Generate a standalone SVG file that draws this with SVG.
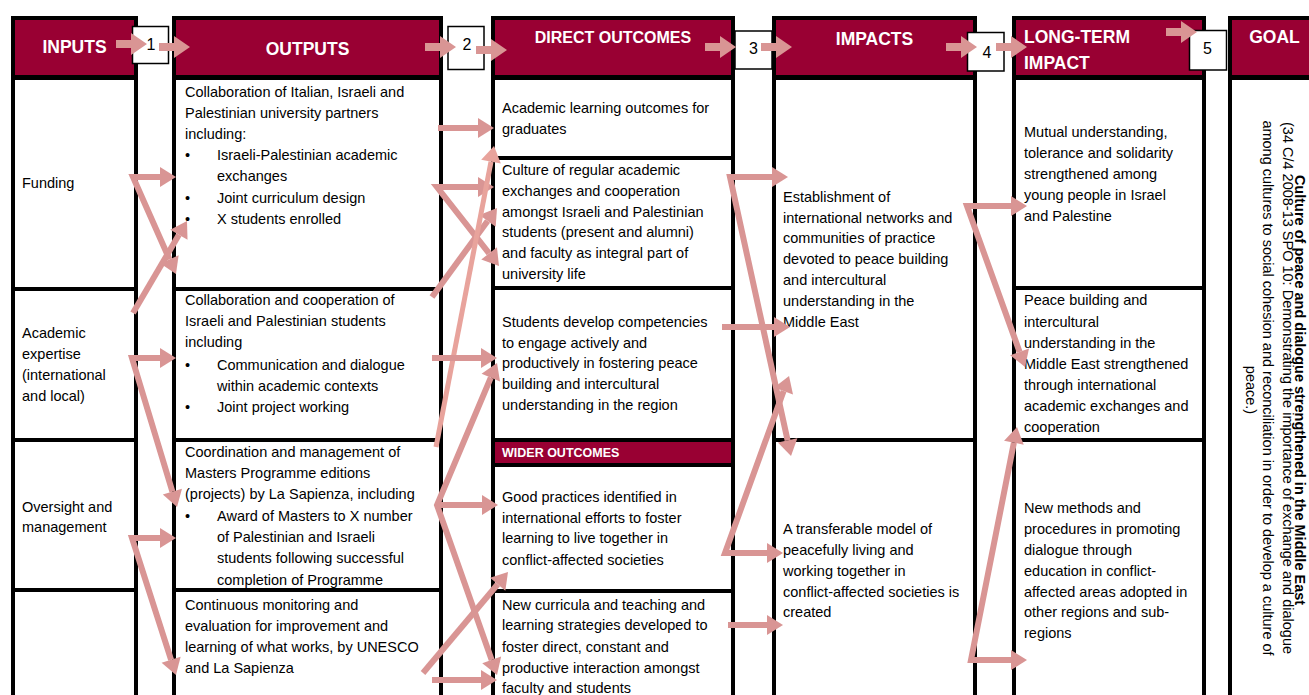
<svg xmlns="http://www.w3.org/2000/svg" width="1309" height="695" viewBox="0 0 1309 695">
<defs>
<style>
  .frame{fill:#000}
  .hdr{fill:#990033}
  .cell{fill:#fff}
  .ht{font-family:"Liberation Sans",Arial,sans-serif;font-weight:bold;font-size:17.5px;fill:#fff}
  .hc{text-anchor:middle}
  .t{font-family:"Liberation Sans",Arial,sans-serif;font-size:14.5px;fill:#000}
  .gb{font-family:"Liberation Sans",Arial,sans-serif;font-size:14.5px;font-weight:bold;fill:#000;text-anchor:middle}
  .gt{font-family:"Liberation Sans",Arial,sans-serif;font-size:14.5px;fill:#000;text-anchor:middle}
  .num rect{fill:#fff;stroke:#000;stroke-width:1.5}
  .num text{font-family:"Liberation Sans",Arial,sans-serif;font-size:16px;fill:#000;text-anchor:middle}
  .blk{fill:#D99594}
  .c{fill:none;stroke:#D99594;stroke-width:6;stroke-linejoin:miter;marker-end:url(#head)}
  .v{marker-start:url(#head)}
  .lt{stroke:#E8A39C;stroke-width:5;marker-end:url(#headLt)}
</style>
<marker id="head" markerUnits="userSpaceOnUse" markerWidth="16" markerHeight="20" refX="0" refY="10" orient="auto-start-reverse" overflow="visible">
  <path d="M0,0 L16,10 L0,20 z" fill="#D99594"/>
</marker>
<marker id="headLt" markerUnits="userSpaceOnUse" markerWidth="16" markerHeight="20" refX="0" refY="10" orient="auto" overflow="visible">
  <path d="M0,0 L16,10 L0,20 z" fill="#E8A39C"/>
</marker>
<!-- block arrow used between the column headers -->
<path id="hdrArrow" d="M0,-4 H15 V-11 L31,0 L15,11 V4 H0 z"/>
</defs>

<rect width="1309" height="695" fill="#fff"/>

<!-- INPUTS column -->
<g id="col-inputs">
  <rect class="frame" x="11" y="16" width="127" height="690"/>
  <rect class="hdr" x="15" y="20" width="119" height="55"/>
  <text class="ht hc" x="74.5" y="53">INPUTS</text>
</g>
<g id="in-funding">
  <rect class="cell" x="15" y="80" width="119" height="207"/>
  <text class="t" x="22" y="188">Funding</text>
</g>
<g id="in-expertise">
  <rect class="cell" x="15" y="291" width="119" height="147"/>
  <text class="t"><tspan x="22" y="338">Academic</tspan><tspan x="22" y="359">expertise</tspan><tspan x="22" y="380">(international</tspan><tspan x="22" y="401">and local)</tspan></text>
</g>
<g id="in-oversight">
  <rect class="cell" x="15" y="442" width="119" height="146"/>
  <text class="t"><tspan x="22" y="512">Oversight and</tspan><tspan x="22" y="532">management</tspan></text>
</g>
<g id="in-empty">
  <rect class="cell" x="15" y="592" width="119" height="110"/>
</g>

<!-- OUTPUTS column -->
<g id="col-outputs">
  <rect class="frame" x="172" y="16" width="271" height="690"/>
  <rect class="hdr" x="176" y="20" width="263" height="55"/>
  <text class="ht hc" x="307.5" y="55">OUTPUTS</text>
</g>
<g id="out-partners">
  <rect class="cell" x="176" y="80" width="263" height="207"/>
  <text class="t"><tspan x="185" y="97">Collaboration of Italian, Israeli and</tspan><tspan x="185" y="118">Palestinian university partners</tspan><tspan x="185" y="139">including:</tspan></text>
  <text class="t"><tspan x="185" y="160">•</tspan><tspan x="217" y="160">Israeli-Palestinian academic</tspan><tspan x="217" y="181">exchanges</tspan><tspan x="185" y="203">•</tspan><tspan x="217" y="203">Joint curriculum design</tspan><tspan x="185" y="224">•</tspan><tspan x="217" y="224">X students enrolled</tspan></text>
</g>
<g id="out-students">
  <rect class="cell" x="176" y="291" width="263" height="147"/>
  <text class="t"><tspan x="185" y="305">Collaboration and cooperation of</tspan><tspan x="185" y="326">Israeli and Palestinian students</tspan><tspan x="185" y="347">including</tspan></text>
  <text class="t"><tspan x="185" y="370">•</tspan><tspan x="217" y="370">Communication and dialogue</tspan><tspan x="217" y="391">within academic contexts</tspan><tspan x="185" y="412">•</tspan><tspan x="217" y="412">Joint project working</tspan></text>
</g>
<g id="out-coordination">
  <rect class="cell" x="176" y="442" width="263" height="146"/>
  <text class="t"><tspan x="185" y="457">Coordination and management of</tspan><tspan x="185" y="478">Masters Programme editions</tspan><tspan x="185" y="499">(projects) by La Sapienza, including</tspan></text>
  <text class="t"><tspan x="185" y="521">•</tspan><tspan x="217" y="521">Award of Masters to X number</tspan><tspan x="217" y="542">of Palestinian and Israeli</tspan><tspan x="217" y="563">students following successful</tspan><tspan x="217" y="585">completion of Programme</tspan></text>
</g>
<g id="out-monitoring">
  <rect class="cell" x="176" y="592" width="263" height="110"/>
  <text class="t"><tspan x="185" y="610">Continuous monitoring and</tspan><tspan x="185" y="631">evaluation for improvement and</tspan><tspan x="185" y="652">learning of what works, by UNESCO</tspan><tspan x="185" y="673">and La Sapienza</tspan></text>
</g>

<!-- DIRECT OUTCOMES column -->
<g id="col-direct">
  <rect class="frame" x="491" y="16" width="244" height="690"/>
  <rect class="hdr" x="495" y="20" width="236" height="55"/>
  <text class="ht hc" x="613" y="43" style="font-size:16px">DIRECT OUTCOMES</text>
</g>
<g id="do-learning">
  <rect class="cell" x="495" y="80" width="236" height="76"/>
  <text class="t"><tspan x="502" y="113">Academic learning outcomes for</tspan><tspan x="502" y="134">graduates</tspan></text>
</g>
<g id="do-culture">
  <rect class="cell" x="495" y="160" width="236" height="126"/>
  <text class="t"><tspan x="502" y="175">Culture of regular academic</tspan><tspan x="502" y="196">exchanges and cooperation</tspan><tspan x="502" y="217">amongst Israeli and Palestinian</tspan><tspan x="502" y="237">students (present and alumni)</tspan><tspan x="502" y="258">and faculty as integral part of</tspan><tspan x="502" y="279">university life</tspan></text>
</g>
<g id="do-competencies">
  <rect class="cell" x="495" y="290" width="236" height="148"/>
  <text class="t"><tspan x="502" y="327">Students develop competencies</tspan><tspan x="502" y="348">to engage actively and</tspan><tspan x="502" y="368">productively in fostering peace</tspan><tspan x="502" y="389">building and intercultural</tspan><tspan x="502" y="410">understanding in the region</tspan></text>
</g>
<g id="wider-header">
  <rect class="hdr" x="495" y="442" width="236" height="21"/>
  <text class="ht" x="502" y="457" style="font-size:12.5px">WIDER OUTCOMES</text>
</g>
<g id="wo-practices">
  <rect class="cell" x="495" y="467" width="236" height="122"/>
  <text class="t"><tspan x="502" y="502">Good practices identified in</tspan><tspan x="502" y="523">international efforts to foster</tspan><tspan x="502" y="543">learning to live together in</tspan><tspan x="502" y="565">conflict-affected societies</tspan></text>
</g>
<g id="wo-curricula">
  <rect class="cell" x="495" y="593" width="236" height="110"/>
  <text class="t"><tspan x="502" y="610">New curricula and teaching and</tspan><tspan x="502" y="630">learning strategies developed to</tspan><tspan x="502" y="652">foster direct, constant and</tspan><tspan x="502" y="673">productive interaction amongst</tspan><tspan x="502" y="693">faculty and students</tspan></text>
</g>

<!-- IMPACTS column -->
<g id="col-impacts">
  <rect class="frame" x="772" y="16" width="205" height="690"/>
  <rect class="hdr" x="776" y="20" width="197" height="55"/>
  <text class="ht hc" x="874.5" y="45">IMPACTS</text>
</g>
<g id="im-networks">
  <rect class="cell" x="776" y="80" width="197" height="358"/>
  <text class="t"><tspan x="783" y="202">Establishment of</tspan><tspan x="783" y="223">international networks and</tspan><tspan x="783" y="243">communities of practice</tspan><tspan x="783" y="264">devoted to peace building</tspan><tspan x="783" y="285">and intercultural</tspan><tspan x="783" y="306">understanding in the</tspan><tspan x="783" y="327">Middle East</tspan></text>
</g>
<g id="im-model">
  <rect class="cell" x="776" y="442" width="197" height="260"/>
  <text class="t"><tspan x="783" y="534">A transferable model of</tspan><tspan x="783" y="555">peacefully living and</tspan><tspan x="783" y="576">working together in</tspan><tspan x="783" y="597">conflict-affected societies is</tspan><tspan x="783" y="617">created</tspan></text>
</g>

<!-- LONG-TERM IMPACT column -->
<g id="col-longterm">
  <rect class="frame" x="1012" y="16" width="194" height="690"/>
  <rect class="hdr" x="1016" y="20" width="186" height="55"/>
  <text class="ht"><tspan x="1024" y="43">LONG-TERM</tspan><tspan x="1024" y="69">IMPACT</tspan></text>
</g>
<g id="lt-understanding">
  <rect class="cell" x="1016" y="80" width="186" height="206"/>
  <text class="t"><tspan x="1024" y="137">Mutual understanding,</tspan><tspan x="1024" y="158">tolerance and solidarity</tspan><tspan x="1024" y="179">strengthened among</tspan><tspan x="1024" y="200">young people in Israel</tspan><tspan x="1024" y="221">and Palestine</tspan></text>
</g>
<g id="lt-peacebuilding">
  <rect class="cell" x="1016" y="290" width="186" height="148"/>
  <text class="t"><tspan x="1024" y="305">Peace building and</tspan><tspan x="1024" y="327">intercultural</tspan><tspan x="1024" y="348">understanding in the</tspan><tspan x="1024" y="369">Middle East strengthened</tspan><tspan x="1024" y="390">through international</tspan><tspan x="1024" y="411">academic exchanges and</tspan><tspan x="1024" y="432">cooperation</tspan></text>
</g>
<g id="lt-methods">
  <rect class="cell" x="1016" y="442" width="186" height="260"/>
  <text class="t"><tspan x="1024" y="513">New methods and</tspan><tspan x="1024" y="534">procedures in promoting</tspan><tspan x="1024" y="555">dialogue through</tspan><tspan x="1024" y="576">education in conflict-</tspan><tspan x="1024" y="597">affected areas adopted in</tspan><tspan x="1024" y="617">other regions and sub-</tspan><tspan x="1024" y="638">regions</tspan></text>
</g>

<!-- GOAL column -->
<g id="col-goal">
  <rect class="frame" x="1228" y="16" width="100" height="690"/>
  <rect class="hdr" x="1232" y="20" width="100" height="55"/>
  <text class="ht hc" x="1274.5" y="43">GOAL</text>
</g>
<g id="goal-statement">
  <rect class="cell" x="1232" y="80" width="100" height="622"/>
  <text class="gb" transform="translate(1295,390) rotate(90)">Culture of peace and dialogue strengthened in the Middle East</text>
  <text class="gt" transform="translate(1283,388) rotate(90)">(34 C/4 2008-13 SPO 10: Demonstrating the importance of exchange and dialogue</text>
  <text class="gt" transform="translate(1263,388) rotate(90)">among cultures to social cohesion and reconciliation in order to develop a culture of</text>
  <text class="gt" transform="translate(1246,390) rotate(90)">peace.)</text>
</g>

<!-- numbered steps between the columns -->
<g id="step-1" class="num"><rect x="132.5" y="26.5" width="36" height="37"/><text x="151" y="50">1</text></g>
<g id="step-2" class="num"><rect x="448" y="26.5" width="36" height="43"/><text x="467" y="50">2</text></g>
<g id="step-3" class="num"><rect x="735" y="31" width="37" height="38"/><text x="753.5" y="54">3</text></g>
<g id="step-4" class="num"><rect x="967.5" y="32.5" width="36.5" height="38.5"/><text x="987" y="58">4</text></g>
<g id="step-5" class="num"><rect x="1189.5" y="30.5" width="37" height="39.5"/><text x="1207.5" y="54">5</text></g>

<!-- connectors -->
<g id="connectors">
  <!-- header chain -->
  <use href="#hdrArrow" class="blk" x="116" y="44"/>
  <use href="#hdrArrow" class="blk" x="159" y="47"/>
  <use href="#hdrArrow" class="blk" x="425" y="47"/>
  <use href="#hdrArrow" class="blk" x="476" y="50"/>
  <use href="#hdrArrow" class="blk" x="705" y="47"/>
  <use href="#hdrArrow" class="blk" x="761" y="47"/>
  <use href="#hdrArrow" class="blk" x="946" y="47"/>
  <use href="#hdrArrow" class="blk" x="996" y="47"/>
  <use href="#hdrArrow" class="blk" x="1166" y="32"/>

  <!-- inputs to outputs -->
  <path class="c v" d="M160,177 L133,177 L169.5,259.4"/>
  <path class="c" d="M133,313 L178.9,234.8"/>
  <path class="c v" d="M160,358 L132,358 L172.4,491.7"/>
  <path class="c v" d="M160,538 L132,538 L171.1,659.8"/>

  <!-- outputs to direct outcomes -->
  <path class="c" d="M438,128 L478,128"/>
  <path class="c v" d="M478,187 L437,187 L489.1,253.4"/>
  <path class="c" d="M432,297 L487.6,220.9"/>
  <path class="c lt" d="M436,447 L491,161.7"/>
  <path class="c" d="M432,358 L481,358"/>
  <path class="c v" d="M490.8,377.7 L437,505 L491.7,659.9"/>
  <path class="c" d="M437,505 L482,505"/>
  <path class="c" d="M423,673 L497.7,584.2"/>
  <path class="c" d="M432,680 L481,680"/>

  <!-- direct outcomes to impacts -->
  <path class="c v" d="M772,177 L730,177 L787.6,440.4"/>
  <path class="c" d="M722,327 L774,327"/>
  <path class="c v" d="M783.6,391 L725,553 L767,553"/>
  <path class="c" d="M728,625 L767,625"/>

  <!-- impacts to long-term impact -->
  <path class="c v" d="M1011,206 L967,206 L1019.6,351.9"/>
  <path class="c v" d="M1013.9,442.7 L971,660 L1011,660"/>
</g>
</svg>
